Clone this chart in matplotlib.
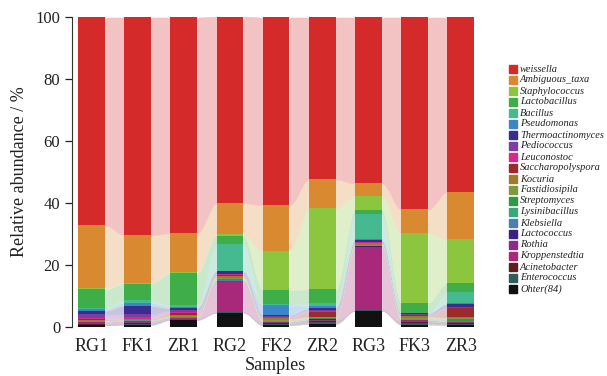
import numpy as np
import matplotlib.pyplot as plt
from matplotlib.patches import Rectangle
from matplotlib.colors import to_rgb

plt.rcParams['font.family'] = ['Liberation Serif', 'DejaVu Serif']

samples = ['RG1', 'FK1', 'ZR1', 'RG2', 'FK2', 'ZR2', 'RG3', 'FK3', 'ZR3']

# 相对丰度 (%)，顺序同 samples
weissella         = [67.2, 70.4, 69.8, 60.4, 60.7, 52.4, 53.7, 62.1, 56.4]
ambiguous_taxa    = [20.2, 15.4, 12.5, 10.0, 14.8,  9.4,  4.1,  7.5, 15.4]
staphylococcus    = [ 0.6,  0.3,  0.4,  0.5, 12.7, 26.2,  4.5, 22.7, 14.0]
lactobacillus     = [ 5.9,  5.3, 10.3,  2.7,  4.5,  4.5,  1.3,  3.2,  2.9]
bacillus          = [ 0.5,  1.0,  0.6,  8.6,  0.3,  0.8,  8.2,  0.1,  3.8]
pseudomonas       = [ 0.5,  0.9,  0.5,  0.2,  3.3,  0.8,  0.2,  0.1,  0.2]
thermoactinomyces = [ 1.2,  2.7,  0.7,  0.8,  0.3,  0.5,  0.7,  0.3,  1.1]
pediococcus       = [ 1.2,  1.0,  0.5,  0.2,  0.4,  0.4,  0.1,  0.3,  0.2]
leuconostoc       = [ 0.4,  0.5,  0.2,  0.3,  0.2,  0.2,  0.1,  0.1,  0.1]
saccharopolyspora = [ 0.2,  0.2,  0.9,  0.3,  0.2,  1.6,  0.2,  0.2,  2.9]
kocuria           = [ 0.2,  0.1,  0.2,  0.5,  0.4,  0.2,  0.4,  0.5,  0.3]
fastidiosipila    = [ 0.1,  0.1,  0.2,  0.4,  0.3,  0.3,  0.3,  0.4,  0.4]
streptomyces      = [ 0.1,  0.1,  0.1,  0.2,  0.2,  0.2,  0.1,  0.2,  0.4]
lysinibacillus    = [ 0.1,  0.1,  0.1,  0.2,  0.1,  0.1,  0.1,  0.1,  0.2]
klebsiella        = [ 0.1,  0.1,  0.1,  0.2,  0.1,  0.1,  0.1,  0.1,  0.1]
lactococcus       = [ 0.1,  0.1,  0.1,  0.2,  0.1,  0.1,  0.1,  0.1,  0.1]
rothia            = [ 0.3,  0.3,  0.1,  0.3,  0.2,  0.1,  0.2,  0.2,  0.1]
kroppenstedtia    = [ 0.3,  0.3,  0.2,  9.5,  0.2,  0.2, 20.2,  0.2,  0.2]
acinetobacter     = [ 0.2,  0.3,  0.2,  0.2,  0.3,  0.5,  0.2,  0.5,  0.3]
enterococcus      = [ 0.2,  0.3,  0.2,  0.1,  0.3,  0.6,  0.1,  0.5,  0.4]
other             = [ 0.4,  0.5,  2.1,  4.5,  0.4,  0.8,  5.1,  0.6,  0.5]

taxa = ['weissella', 'Ambiguous_taxa', 'Staphylococcus', 'Lactobacillus', 'Bacillus',
        'Pseudomonas', 'Thermoactinomyces', 'Pediococcus', 'Leuconostoc',
        'Saccharopolyspora', 'Kocuria', 'Fastidiosipila', 'Streptomyces',
        'Lysinibacillus', 'Klebsiella', 'Lactococcus', 'Rothia', 'Kroppenstedtia',
        'Acinetobacter', 'Enterococcus', 'Ohter(84)']
values = [weissella, ambiguous_taxa, staphylococcus, lactobacillus, bacillus,
          pseudomonas, thermoactinomyces, pediococcus, leuconostoc,
          saccharopolyspora, kocuria, fastidiosipila, streptomyces,
          lysinibacillus, klebsiella, lactococcus, rothia, kroppenstedtia,
          acinetobacter, enterococcus, other]
colors = ['#d42a2a', '#d98a30', '#8cc63f', '#3fae49', '#45b98f',
          '#3a86c8', '#3a2d8f', '#7b3fa0', '#d8288a',
          '#9c2a2c', '#a07a2a', '#7f9a3a', '#2e9a45',
          '#3aa87a', '#4a7fb0', '#3a2280', '#8a2a8a', '#a8287a',
          '#5a1e1e', '#2e5e5a', '#111111']

x = np.arange(len(samples))
w = 0.58

fig = plt.figure(figsize=(6.07, 3.76), dpi=100)
ax = fig.add_axes([0.1186, 0.1316, 0.671, 0.8219])

# 从底部 (Other) 往上堆叠，柱子之间用浅色条带连接
order = list(range(len(taxa)))[::-1]
bottom = np.zeros(len(samples))
for k in order:
    v = np.array(values[k])
    top = bottom + v
    ax.bar(x, v, w, bottom=bottom, color=colors[k], linewidth=0, zorder=3)
    if k != len(taxa) - 1:
        light = tuple(0.28 * c + 0.72 for c in to_rgb(colors[k]))
        for i in range(len(samples) - 1):
            xs = np.linspace(x[i] + w / 2, x[i + 1] - w / 2, 60)
            t = (xs - xs[0]) / (xs[-1] - xs[0])
            s = t * t * (3 - 2 * t)
            lo = bottom[i] + (bottom[i + 1] - bottom[i]) * s
            hi = top[i] + (top[i + 1] - top[i]) * s
            ax.fill_between(xs, lo, hi, facecolor=light, edgecolor=light,
                            linewidth=0.4, zorder=1)
    bottom = top

ax.set_xlim(-0.42, 8.4)
ax.set_ylim(0, 100)
ax.set_yticks([0, 20, 40, 60, 80, 100])
ax.set_xticks(x, samples)
for sp in ['top', 'right', 'bottom']:
    ax.spines[sp].set_visible(False)
ax.spines['left'].set_color('#333333')
ax.tick_params(axis='x', length=0, pad=8, labelsize=13, colors='#222222')
ax.tick_params(axis='y', length=5, width=0.9, labelsize=12, colors='#222222', direction='out')
ax.set_xlabel('Samples', fontsize=13, color='#222222', labelpad=2)
ax.set_ylabel('Relative abundance / %', fontsize=13, color='#222222', labelpad=5)

# 右侧图例
px_w, px_h = 607.0, 376.0
for i, name in enumerate(taxa):
    yc = 69 + 11 * i
    fig.patches.append(Rectangle((509 / px_w, 1 - (yc + 4) / px_h), 8 / px_w, 8 / px_h,
                                 transform=fig.transFigure, color=colors[i]))
    fig.text(520 / px_w, 1 - yc / px_h, name, fontsize=7.5, style='italic',
             va='center', ha='left', color='#222222')

fig.savefig('out.png', dpi=100)
